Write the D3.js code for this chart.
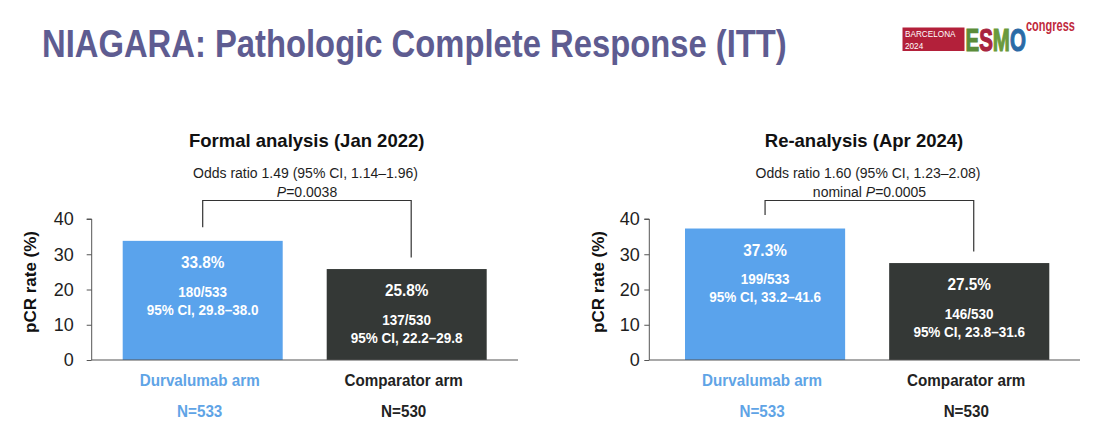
<!DOCTYPE html>
<html>
<head>
<meta charset="utf-8">
<script src="https://cdn.jsdelivr.net/npm/d3@7"></script>
<style>
  html, body { margin: 0; padding: 0; background: #ffffff; }
  svg { display: block; font-family: "Liberation Sans", Arial, Helvetica, sans-serif; }
</style>
</head>
<body>
<svg id="chart" width="1098" height="446"></svg>
<script>
// ---------- data ----------
const mainTitle = "NIAGARA: Pathologic Complete Response (ITT)";
const categories = ["Durvalumab arm", "Comparator arm"];
const nLabels = ["N=533", "N=530"];
const panelTitles = ["Formal analysis (Jan 2022)", "Re-analysis (Apr 2024)"];
const formalValues = [33.8, 25.8];
const reanalysisValues = [37.3, 27.5];
const formalCounts = ["180/533", "137/530"];
const reanalysisCounts = ["199/533", "146/530"];
const formalCI = ["95% CI, 29.8–38.0", "95% CI, 22.2–29.8"];
const reanalysisCI = ["95% CI, 33.2–41.6", "95% CI, 23.8–31.6"];
const oddsRatioLines = ["Odds ratio 1.49 (95% CI, 1.14–1.96)", "Odds ratio 1.60 (95% CI, 1.23–2.08)"];
const pPrefixes = ["", "nominal "];
const pValues = ["0.0038", "0.0005"];
const yTicks = [0, 10, 20, 30, 40];
const yLabel = "pCR rate (%)";
const logoLetters = ["E", "S", "M", "O"];

// ---------- style / layout ----------
const barColors = ["#5aa3ec", "#343836"];
const catColors = ["#5fa4e6", "#222222"];
const titleColor = "#5e5c91";
const textColor = "#1e1e1e";
const logoLetterColors = ["#5b8c39", "#a8243f", "#6a9a3c", "#2a6aa6"];

const panels = [
  { title: panelTitles[0], values: formalValues, counts: formalCounts, ci: formalCI,
    odds: oddsRatioLines[0], pPrefix: pPrefixes[0], p: pValues[0],
    axisX: 91.7, axisEnd: 518, barRange: [122.7, 486.7], tickPad: 13, yLabelX: 30,
    titleX: 306.7, annX: 305.5 },
  { title: panelTitles[1], values: reanalysisValues, counts: reanalysisCounts, ci: reanalysisCI,
    odds: oddsRatioLines[1], pPrefix: pPrefixes[1], p: pValues[1],
    axisX: 649.3, axisEnd: 1080, barRange: [685, 1049.3], tickPad: 4.5, yLabelX: 598,
    titleX: 864, annX: 868 }
];

const svg = d3.select("#chart");

function condense(sel, f) {
  sel.each(function () {
    const w = this.getComputedTextLength();
    this.setAttribute("textLength", (w * f).toFixed(2));
    this.setAttribute("lengthAdjust", "spacingAndGlyphs");
  });
  return sel;
}

// ---------- main title (condensed look via vertical stretch) ----------
const titleEl = svg.append("text")
  .attr("font-size", 32.8).attr("font-weight", "bold")
  .attr("fill", titleColor)
  .text(mainTitle);
{
  const w = titleEl.node().getComputedTextLength();
  const sx = 745 / w;
  titleEl.attr("transform", `translate(42,56.5) scale(${sx},1.19)`);
}

// ---------- logo ----------
const logo = svg.append("g");
logo.append("rect").attr("x", 902.5).attr("y", 27.5).attr("width", 62).attr("height", 23.5).attr("fill", "#b3203a");
logo.append("text").attr("transform", "translate(905,37.2) scale(1,1.2)")
  .attr("font-size", 8.2).attr("fill", "#fff").text("BARCELONA");
logo.append("text").attr("transform", "translate(905,49) scale(1,1.2)")
  .attr("font-size", 8.2).attr("fill", "#fff").text("2024");
const esmoText = logo.append("text").attr("transform", "translate(965.5,51) scale(1,1.55)")
  .attr("font-size", 20.5).attr("font-weight", "bold").attr("stroke-width", 0.8);
logoLetters.forEach((ch, i) => {
  esmoText.append("tspan").attr("fill", logoLetterColors[i]).attr("stroke", logoLetterColors[i]).text(ch);
});
logo.append("text").attr("transform", "translate(1026,30.5) scale(1,1.45)")
  .attr("font-size", 11).attr("font-weight", "bold").attr("fill", "#c0283c").text("congress");

// ---------- panels ----------
const y = d3.scaleLinear().domain([0, 40]).range([360, 219]);

panels.forEach(pn => {
  const g = svg.append("g");
  const x = d3.scaleBand().domain(categories).range(pn.barRange).paddingInner(0.2157).paddingOuter(0);

  // panel title
  g.append("text").attr("x", pn.titleX).attr("y", 147).attr("text-anchor", "middle")
    .attr("font-size", 18.5).attr("font-weight", "bold").attr("fill", "#111").text(pn.title);

  // annotations
  g.append("text").attr("x", pn.annX).attr("y", 178.3).attr("text-anchor", "middle")
    .attr("font-size", 14).attr("fill", textColor).text(pn.odds);
  const pt = g.append("text").attr("x", pn.annX + 1.5).attr("y", 197.3).attr("text-anchor", "middle")
    .attr("font-size", 14).attr("fill", textColor);
  if (pn.pPrefix) pt.append("tspan").text(pn.pPrefix);
  pt.append("tspan").attr("font-style", "italic").text("P");
  pt.append("tspan").text("=" + pn.p);

  // bars
  g.selectAll("rect.bar").data(pn.values).join("rect").attr("class", "bar")
    .attr("x", (d, i) => x(categories[i]))
    .attr("width", x.bandwidth())
    .attr("y", d => y(d))
    .attr("height", d => y(0) - y(d))
    .attr("fill", (d, i) => barColors[i]);

  // bracket
  const c0 = x(categories[0]) + x.bandwidth() / 2;
  const c1 = x(categories[1]) + x.bandwidth() / 2 + 4.5;
  const yTop = 200.5;
  g.append("path")
    .attr("d", `M${c0},${y(pn.values[0]) - 13.5}V${yTop}H${c1}V${y(pn.values[1]) - 11.5}`)
    .attr("fill", "none").attr("stroke", "#333").attr("stroke-width", 1.2);

  // bar texts
  pn.values.forEach((v, i) => {
    const cx = x(categories[i]) + x.bandwidth() / 2;
    const top = y(v);
    condense(g.append("text").attr("x", cx).attr("y", top + 27.3).attr("text-anchor", "middle")
      .attr("font-size", 16.5).attr("font-weight", "bold").attr("fill", "#fff").text(v.toFixed(1) + "%"), 0.93);
    condense(g.append("text").attr("x", cx).attr("y", top + 55.8).attr("text-anchor", "middle")
      .attr("font-size", 15.5).attr("font-weight", "bold").attr("fill", "#fff").text(pn.counts[i]), 0.87);
    condense(g.append("text").attr("x", cx).attr("y", top + 73.8).attr("text-anchor", "middle")
      .attr("font-size", 15.5).attr("font-weight", "bold").attr("fill", "#fff").text(pn.ci[i]), 0.87);
    // category labels
    condense(g.append("text").attr("x", cx - 3).attr("y", 386).attr("text-anchor", "middle")
      .attr("font-size", 16).attr("font-weight", "bold").attr("fill", catColors[i]).text(categories[i]), 0.95);
    condense(g.append("text").attr("x", cx - 3).attr("y", 416.5).attr("text-anchor", "middle")
      .attr("font-size", 16).attr("font-weight", "bold").attr("fill", catColors[i]).text(nLabels[i]), 0.95);
  });

  // y axis
  const ax = g.append("g").attr("transform", `translate(${pn.axisX},0)`)
    .call(d3.axisLeft(y).tickValues(yTicks).tickSize(5).tickPadding(pn.tickPad).tickFormat(d3.format("d")));
  ax.select(".domain").attr("stroke", "#555").attr("d", `M-5,${y(40)}H0V${y(0)}`);
  ax.selectAll(".tick line").attr("stroke", "#555");
  ax.selectAll(".tick text").attr("font-size", 18).attr("fill", textColor)
    .attr("font-family", "'Liberation Sans', Arial, sans-serif");

  // baseline
  g.append("line").attr("x1", pn.axisX).attr("x2", pn.axisEnd).attr("y1", y(0)).attr("y2", y(0))
    .attr("stroke", "#555").attr("stroke-width", 1.2);

  // y label
  g.append("text").attr("transform", `translate(${pn.yLabelX + 6},${282}) rotate(-90)`)
    .attr("text-anchor", "middle").attr("font-size", 17).attr("font-weight", "bold")
    .attr("fill", "#111").text(yLabel);
});
</script>
</body>
</html>
